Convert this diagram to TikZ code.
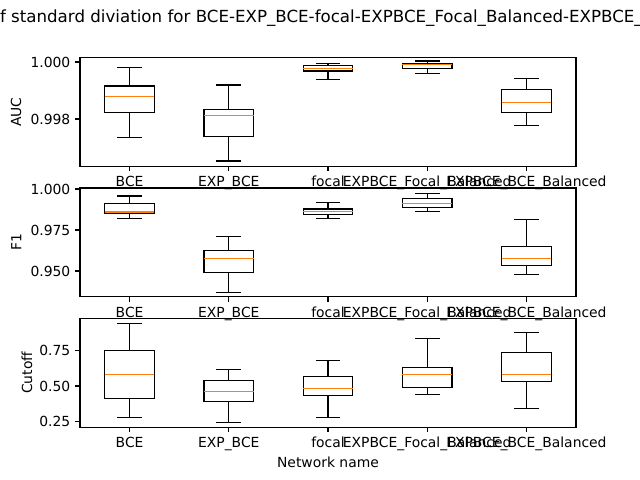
\documentclass[tikz,border=0pt]{standalone}
\usepackage{fontspec}
\setmainfont{DejaVu Sans}
\definecolor{mplorange}{HTML}{FF7F0E}
\newcommand\bxp[6]{%
  \draw[boxln] (#1-24.8,#3) rectangle (#1+24.8,#5);
  \draw[boxln] (#1,#3) -- (#1,#2) (#1-12.4,#2) -- (#1+12.4,#2);
  \draw[boxln] (#1,#5) -- (#1,#6) (#1-12.4,#6) -- (#1+12.4,#6);
  \draw[med] (#1-24.8,#4) -- (#1+24.8,#4);}
\begin{document}
\begin{tikzpicture}[x=0.72pt,y=-0.72pt,
  font=\fontsize{10}{12}\selectfont,
  spine/.style={line width=0.8pt, black},
  tk/.style={line width=0.8pt, black},
  boxln/.style={line width=1pt, black},
  med/.style={line width=1pt, color=mplorange},
  lbl/.style={inner sep=0pt, outer sep=0pt}]
\useasboundingbox (0,0) rectangle (640,480);
\fill[white] (0,0) rectangle (640,480);
\clip (0,0) rectangle (640,480);

% title
\node[lbl, anchor=base west, font=\fontsize{12}{14}\selectfont] (title) at (0,22)
  {f standard diviation for BCE-EXP\_BCE-focal-EXPBCE\_Focal\_Balanced-EXPBCE\_};

% ---------- axes 1: AUC ----------
\bxp{129.6}{67.3}{86}{96.3}{112.7}{137.3}
\bxp{228.8}{85}{109.3}{115.3}{136.3}{161}
\bxp{328}{63.3}{65.7}{68.3}{71}{79.3}
\bxp{427.2}{61}{63.3}{64.7}{68.3}{73.3}
\bxp{526.4}{78.3}{89.3}{102.3}{112.3}{125.3}
\draw[spine] (80,57.6) rectangle (576,166.3);
\foreach \v/\t/\n in {62/1.000/a, 119/0.998/b}{
  \draw[tk] (80,\v) -- (75.14,\v);
  \node[lbl, anchor=base east] (ya1\n) at (70.3,\v+5) {\t};
}
\node[lbl, anchor=base, rotate=90] (ylab1) at (21,112) {AUC};

% ---------- axes 2: F1 ----------
\bxp{129.6}{196}{203.3}{212}{213.3}{218.3}
\bxp{228.8}{236.7}{250.3}{258.3}{272.3}{292.3}
\bxp{328}{202.3}{209}{211.3}{214.3}{218.3}
\bxp{427.2}{193.3}{198.3}{203.3}{207.7}{211.7}
\bxp{526.4}{219.3}{246.7}{258.3}{265.7}{274.3}
\draw[spine] (80,188) rectangle (576,296.7);
\foreach \v/\t/\n in {189/1.000/a, 230/0.975/b, 271/0.950/c}{
  \draw[tk] (80,\v) -- (75.14,\v);
  \node[lbl, anchor=base east] (ya2\n) at (70.3,\v+5) {\t};
}
\node[lbl, anchor=base, rotate=90] (ylab2) at (21.5,242.3) {F1};

% ---------- axes 3: Cutoff ----------
\bxp{129.6}{323.3}{350.3}{374.3}{398.3}{417.3}
\bxp{228.8}{369.3}{380.3}{391.3}{401.3}{422.3}
\bxp{328}{360.3}{376.3}{388.3}{395.3}{417.3}
\bxp{427.2}{338.3}{367.3}{374.3}{387.3}{394.3}
\bxp{526.4}{332.3}{352.3}{374.3}{381.3}{408.3}
\draw[spine] (80,318.5) rectangle (576,427.2);
\foreach \v/\t/\n in {350.3/0.75/a, 386/0.50/b, 421.7/0.25/c}{
  \draw[tk] (80,\v) -- (75.14,\v);
  \node[lbl, anchor=base east] (ya3\n) at (70.3,\v+5) {\t};
}
\node[lbl, anchor=base, rotate=90] (ylab3) at (32,372.8) {Cutoff};

% ---------- x ticks and labels ----------
\foreach \B/\k in {166.3/1, 296.7/2, 427.2/3}{
  \foreach \x/\t/\n in {129.6/BCE/a, 228.8/EXP\_BCE/b, 328/focal/c,
                        427.2/EXPBCE\_Focal\_Balanced/d, 526.4/EXPBCE\_BCE\_Balanced/e}{
    \draw[tk] (\x,\B) -- (\x,\B+4.86);
    \node[lbl, anchor=base] (xl\k\n) at (\x,\B+20.4) {\t};
  }
}
\node[lbl, anchor=base] (xlab) at (328,467.3) {Network name};
\end{tikzpicture}
\end{document}
